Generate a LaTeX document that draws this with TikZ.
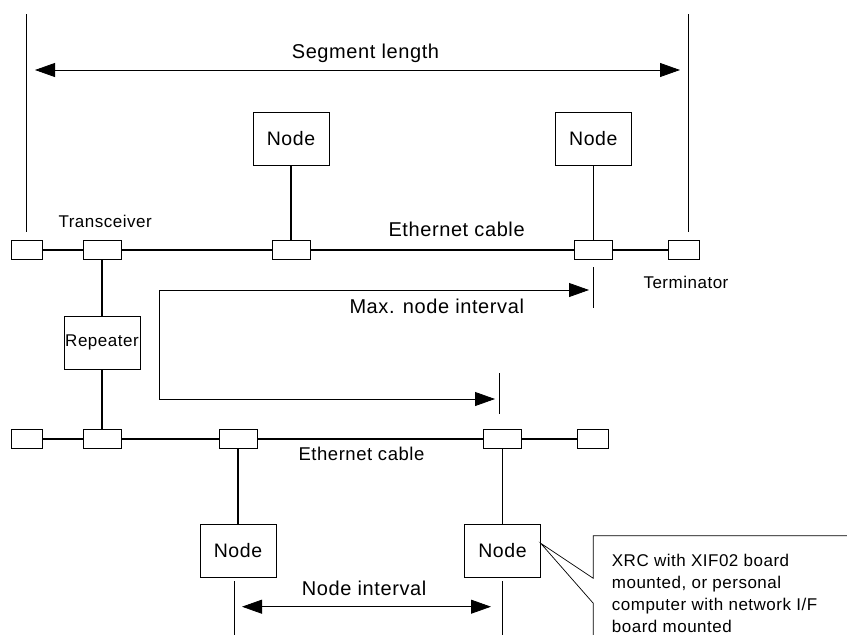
\documentclass[tikz,border=0pt]{standalone}
\usepackage{fontspec}
\setmainfont{Liberation Sans}[LetterSpace=3]
\usetikzlibrary{arrows.meta}
\begin{document}
\begin{tikzpicture}[x=1pt,y=-1pt,
  >={Triangle[length=20pt,width=14pt]},
  box/.style={draw,line width=0.8pt,inner sep=0pt,fill=white},
  tbox/.style={box,minimum width=38pt,minimum height=19pt},
  term/.style={box,minimum width=31pt,minimum height=19pt},
  nbox/.style={box,minimum width=76pt,minimum height=53pt,font=\fontsize{19.5}{22}\selectfont},
  rbox/.style={box,minimum width=76pt,minimum height=53pt,font=\fontsize{17}{19}\selectfont},
  cable/.style={line width=1.3pt},
  dim/.style={line width=0.8pt},
  big/.style={inner sep=0pt,font=\fontsize{20}{22}\selectfont},
  small/.style={inner sep=0pt,font=\fontsize{17}{19}\selectfont},
  mid/.style={inner sep=0pt,font=\fontsize{18.5}{20}\selectfont}]
\useasboundingbox (0,0) rectangle (847,635);

% top segment
\node[term] (tl) at (26.5,250) {};
\node[tbox] (t1) at (102,250) {};
\node[tbox] (t2) at (291,250) {};
\node[tbox] (t3) at (593.3,250) {};
\node[term] (tr) at (684,250) {};
\node[nbox] (n1) at (291,138.5) {Node};
\node[nbox] (n2) at (593.3,138.5) {Node};
\draw[cable] (tl) -- (t1) -- (t2) -- (t3) -- (tr);
\draw[cable] (n1) -- (t2);
\draw[cable] (n2) -- (t3);

% repeater
\node[rbox] (rep) at (102,342.5) {Repeater};
\draw[cable] (t1) -- (rep);

% lower segment
\node[term] (bl) at (26.5,439) {};
\node[tbox] (b1) at (102,439) {};
\node[tbox] (b2) at (238,439) {};
\node[tbox] (b3) at (502.5,439) {};
\node[term] (br) at (593.3,439) {};
\node[nbox] (n3) at (238,550.5) {Node};
\node[nbox] (n4) at (502.5,550.5) {Node};
\draw[cable] (bl) -- (b1) -- (b2) -- (b3) -- (br);
\draw[cable] (rep) -- (b1);
\draw[cable] (b2) -- (n3);
\draw[cable] (b3) -- (n4);

% segment length
\coordinate (sl1) at (26,14); \coordinate (sl2) at (26,232);
\coordinate (sr1) at (688,14); \coordinate (sr2) at (688,232);
\draw[dim] (sl1) -- (sl2);
\draw[dim] (sr1) -- (sr2);
\coordinate (sa) at (35,70); \coordinate (sb) at (680,70);
\draw[dim,<->] (sa) -- (sb);
\node[big,anchor=base] (segtxt) at (365.5,58) {Segment length};

% labels top
\node[small,anchor=base west] (trtxt) at (58.3,227.7) {Transceiver};
\node[big,anchor=base west] (ec1) at (388.3,236) {Ethernet cable};
\node[small,anchor=base west] (termtxt) at (643.3,288.3) {Terminator};

% max node interval
\coordinate (m1) at (589,290); \coordinate (m2) at (159,290);
\coordinate (m3) at (159,399); \coordinate (m4) at (495,399);
\draw[dim,<->] (m1) -- (m2) -- (m3) -- (m4);
\coordinate (k1) at (593.3,267); \coordinate (k2) at (593.3,308);
\draw[dim] (k1) -- (k2);
\coordinate (k3) at (499,373); \coordinate (k4) at (499,414);
\draw[dim] (k3) -- (k4);
\node[big,anchor=base west] (maxtxt) at (349.3,313.3) {Max. node interval};

% lower labels
\node[mid,anchor=base west] (ec2) at (298.3,460.7) {Ethernet cable};

% node interval
\coordinate (v1) at (234,581); \coordinate (v2) at (234,635);
\coordinate (v3) at (502.3,581); \coordinate (v4) at (502.3,635);
\draw[dim] (v1) -- (v2);
\draw[dim] (v3) -- (v4);
\coordinate (ia) at (242,606.7); \coordinate (ib) at (491,606.7);
\draw[dim,<->] (ia) -- (ib);
\node[big,anchor=base west] (nitxt) at (301.7,595.7) {Node interval};

% callout
\coordinate (c0) at (540.7,543.3);
\coordinate (c1) at (593.3,635); \coordinate (c2) at (593.3,603.3);
\coordinate (c3) at (593.3,578.3); \coordinate (c4) at (593.3,535.7);
\coordinate (c5) at (847,535.7);
\draw[line width=0.7pt] (c1) -- (c2) -- (c0) -- (c3) -- (c4) -- (c5);
\node[inner sep=0pt,font=\fontsize{17}{22}\selectfont,align=left,anchor=base west] (calltxt) at (611.7,632.7)
  {XRC with XIF02 board\\mounted, or personal\\computer with network I/F\\board mounted};
\end{tikzpicture}
\end{document}
